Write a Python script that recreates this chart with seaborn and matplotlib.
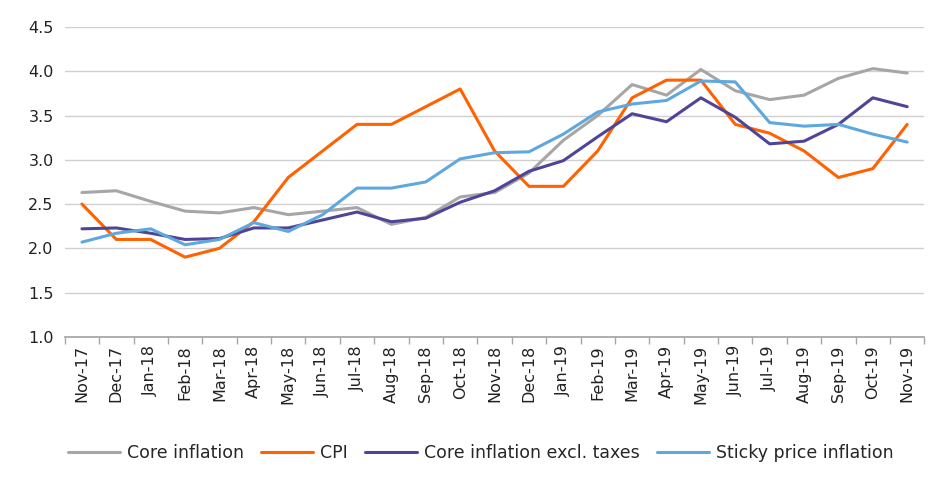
import numpy as np
import pandas as pd
import seaborn as sns
import matplotlib.pyplot as plt
from matplotlib.ticker import FixedLocator

sns.set_theme(style="white")
plt.rcParams['font.family'] = ['DejaVu Sans']

months = ["Nov-17", "Dec-17", "Jan-18", "Feb-18", "Mar-18", "Apr-18", "May-18", "Jun-18",
          "Jul-18", "Aug-18", "Sep-18", "Oct-18", "Nov-18", "Dec-18", "Jan-19", "Feb-19",
          "Mar-19", "Apr-19", "May-19", "Jun-19", "Jul-19", "Aug-19", "Sep-19", "Oct-19", "Nov-19"]

core = [2.63, 2.65, 2.53, 2.42, 2.40, 2.46, 2.38, 2.42, 2.46, 2.27, 2.35, 2.58, 2.63,
        2.85, 3.22, 3.50, 3.85, 3.73, 4.02, 3.78, 3.68, 3.73, 3.92, 4.03, 3.98]
cpi = [2.5, 2.1, 2.1, 1.9, 2.0, 2.3, 2.8, 3.1, 3.4, 3.4, 3.6, 3.8, 3.1,
       2.7, 2.7, 3.1, 3.7, 3.9, 3.9, 3.4, 3.3, 3.1, 2.8, 2.9, 3.4]
core_excl = [2.22, 2.23, 2.17, 2.10, 2.11, 2.23, 2.23, 2.32, 2.41, 2.30, 2.34, 2.52, 2.65,
             2.87, 2.99, 3.26, 3.52, 3.43, 3.70, 3.48, 3.18, 3.21, 3.40, 3.70, 3.60]
sticky = [2.07, 2.17, 2.22, 2.04, 2.10, 2.29, 2.19, 2.38, 2.68, 2.68, 2.75, 3.01, 3.08,
          3.09, 3.29, 3.54, 3.63, 3.67, 3.89, 3.88, 3.42, 3.38, 3.40, 3.29, 3.20]

series = {"Core inflation": core, "CPI": cpi,
          "Core inflation excl. taxes": core_excl, "Sticky price inflation": sticky}
colors = ["#A6A6A6", "#FF6200", "#4F4598", "#5FA8DE"]

rows = []
for name, vals in series.items():
    for m, v in zip(months, vals):
        rows.append({"month": m, "value": v, "series": name})
data = pd.DataFrame(rows)

fig = plt.figure(figsize=(9.52, 4.91), dpi=100)
ax = fig.add_axes([0.068, 0.314, 0.903, 0.631])

sns.lineplot(data=data, x="month", y="value", hue="series", palette=colors,
             linewidth=2.2, sort=False, ax=ax)

ax.set_xlim(-0.5, len(months) - 0.5)
ax.set_ylim(1.0, 4.5)
ax.set_yticks(np.arange(1.0, 4.51, 0.5))
ax.set_yticklabels([f"{v:.1f}" for v in np.arange(1.0, 4.51, 0.5)])
ax.set_xticks(range(len(months)))
ax.set_xticklabels(months, rotation=90)
ax.xaxis.set_minor_locator(FixedLocator(np.arange(-0.5, len(months), 1.0)))
ax.tick_params(axis="x", which="major", length=0, pad=6, labelsize=11.5, colors="#222222")
ax.tick_params(axis="x", which="minor", bottom=True, length=5, width=1, color="#A6A6A6")
ax.tick_params(axis="y", length=0, labelsize=11.5, colors="#222222", pad=8)

ax.grid(axis="y", color="#D0D0D0", linewidth=1)
for s in ["top", "right", "left"]:
    ax.spines[s].set_visible(False)
ax.spines["bottom"].set_color("#A6A6A6")
ax.set_xlabel("")
ax.set_ylabel("")

ax.legend_.remove()
handles, labels = ax.get_legend_handles_labels()
fig.legend(handles, labels, loc="center", bbox_to_anchor=(0.505, 0.077), ncol=4,
           frameon=False, fontsize=12.5, handlelength=3.0, columnspacing=1.0,
           handletextpad=0.4)

plt.savefig("out.png", dpi=100)
